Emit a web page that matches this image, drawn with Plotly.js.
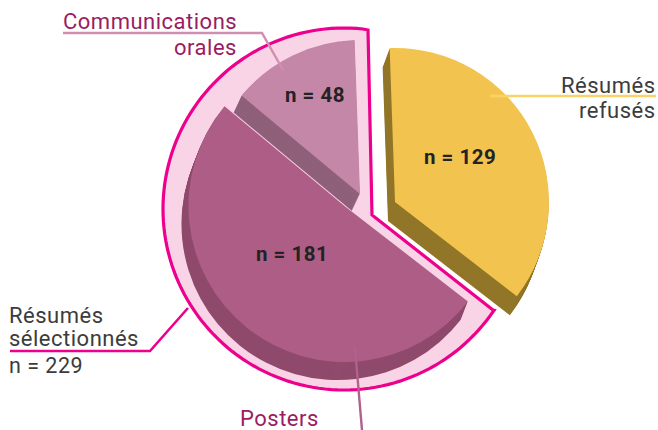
<!DOCTYPE html>
<html>
<head>
<meta charset="utf-8">
<script src="https://cdn.plot.ly/plotly-3.0.1.min.js"></script>
<style>html,body{margin:0;padding:0;background:#fff}#c{width:658px;height:430px}
.annotation-text{letter-spacing:0.5px}</style>
</head>
<body>
<div id="c"></div>
<script>
// Data
const categories = ["Résumés refusés", "Posters", "Communications orales"];
const counts = [129, 181, 48];
const topColors = ["#f3c34f", "#ae5e86", "#c587a7"];
const sideColors = ["#927629", "#8f4a6c", "#8f607a"];
const selectedTotal = 229;

const W = 658, H = 430, ROT = -2, CLEAR = "rgba(0,0,0,0)";
const fx = x => x / W, fy = y => 1 - y / H;

// Pixel placement of each exploded slice: centre, radius, extrusion offset, depth steps
const place = [
  {cx: 395, cy: 202, r: 154, dx: -7, dy: 19},
  {cx: 344.5, cy: 206, r: 156, dx: -7, dy: 18},
  {cx: 360, cy: 194, r: 154, dx: -8, dy: 17}
];

function slice(i, color, ox, oy) {
  const p = place[i];
  const cx = p.cx + ox, cy = p.cy + oy;
  return {
    type: "pie", sort: false, direction: "clockwise", rotation: ROT,
    labels: categories, values: counts,
    marker: {colors: counts.map((_, k) => k === i ? color : CLEAR), line: {width: 0}},
    textinfo: "none", hoverinfo: "skip", showlegend: false,
    domain: {x: [fx(cx - p.r), fx(cx + p.r)], y: [fy(cy + p.r), fy(cy - p.r)]}
  };
}

const traces = [];
[2, 1, 0].forEach(i => {
  const p = place[i], n = Math.abs(p.dy);
  for (let s = n; s >= 1; s--) traces.push(slice(i, sideColors[i], p.dx * s / n, p.dy * s / n));
  traces.push(slice(i, topColors[i], 0, 0));
});

function label(text, x, y, anchor, color, size, bold) {
  return {
    xref: "paper", yref: "paper", x: fx(x), y: fy(y), xanchor: anchor, yanchor: "middle",
    text: bold ? "<b>" + text + "</b>" : text, showarrow: false,
    font: {family: "Roboto, sans-serif", size: size, color: color},
    borderpad: 0, borderwidth: 0
  };
}
const wine = "#9b1c62", grey = "#3c3c3c", ink = "#232323";
const annotations = [
  label("Communications", 237, 21, "right", wine, 22),
  label("orales", 237, 47, "right", wine, 22),
  label("Résumés", 656, 85, "right", grey, 22),
  label("refusés", 656, 110, "right", grey, 22),
  label("Résumés", 9, 315, "left", grey, 22),
  label("sélectionnés", 9, 338, "left", grey, 22),
  label("n = " + selectedTotal, 9, 365, "left", grey, 21.5),
  label("Posters", 279, 418, "center", wine, 22),
  label("n = " + counts[2], 315, 95, "center", ink, 20.5, true),
  label("n = " + counts[0], 460, 157, "center", ink, 20.5, true),
  label("n = " + counts[1], 292, 254, "center", ink, 20.5, true)
];

function poly(pts, color, w) {
  return {type: "path", xref: "paper", yref: "paper", layer: "above",
    path: "M " + pts.map(p => fx(p[0]) + " " + fy(p[1])).join(" L "),
    line: {color: color, width: w}};
}

// Bracket behind the selected abstracts: pixel-space arc sampled around its circle
function bracketPath() {
  const c = [344, 209], r = 181, a0 = 124, a1 = 367.6, pts = [];
  for (let a = a0; a <= a1; a += 2) {
    const t = a * Math.PI / 180;
    pts.push([c[0] + r * Math.sin(t), c[1] - r * Math.cos(t)]);
  }
  pts.push([368, 30], [372, 215], [493, 310]);
  return "M " + pts.map(p => fx(p[0]) + " " + fy(p[1])).join(" L ") + " Z";
}

const shapes = [
  {type: "path", xref: "paper", yref: "paper", layer: "below", path: bracketPath(),
   fillcolor: "#f9d3e6", line: {color: "#ec008c", width: 3.2}},
  poly([[63, 33], [262, 33], [283, 70]], "#d08fb0", 2.4),
  poly([[490, 96], [656, 96]], "#fbd267", 2.4),
  poly([[355, 348], [362, 430]], "#b0628c", 2.4),
  poly([[10, 351], [150, 351], [188, 308]], "#ec008c", 2.6)
];

Plotly.newPlot("c", traces, {
  width: W, height: H, margin: {l: 0, r: 0, t: 0, b: 0},
  paper_bgcolor: "#fff", plot_bgcolor: "#fff", showlegend: false,
  annotations: annotations, shapes: shapes
}, {displayModeBar: false, staticPlot: true});
</script>
</body>
</html>
